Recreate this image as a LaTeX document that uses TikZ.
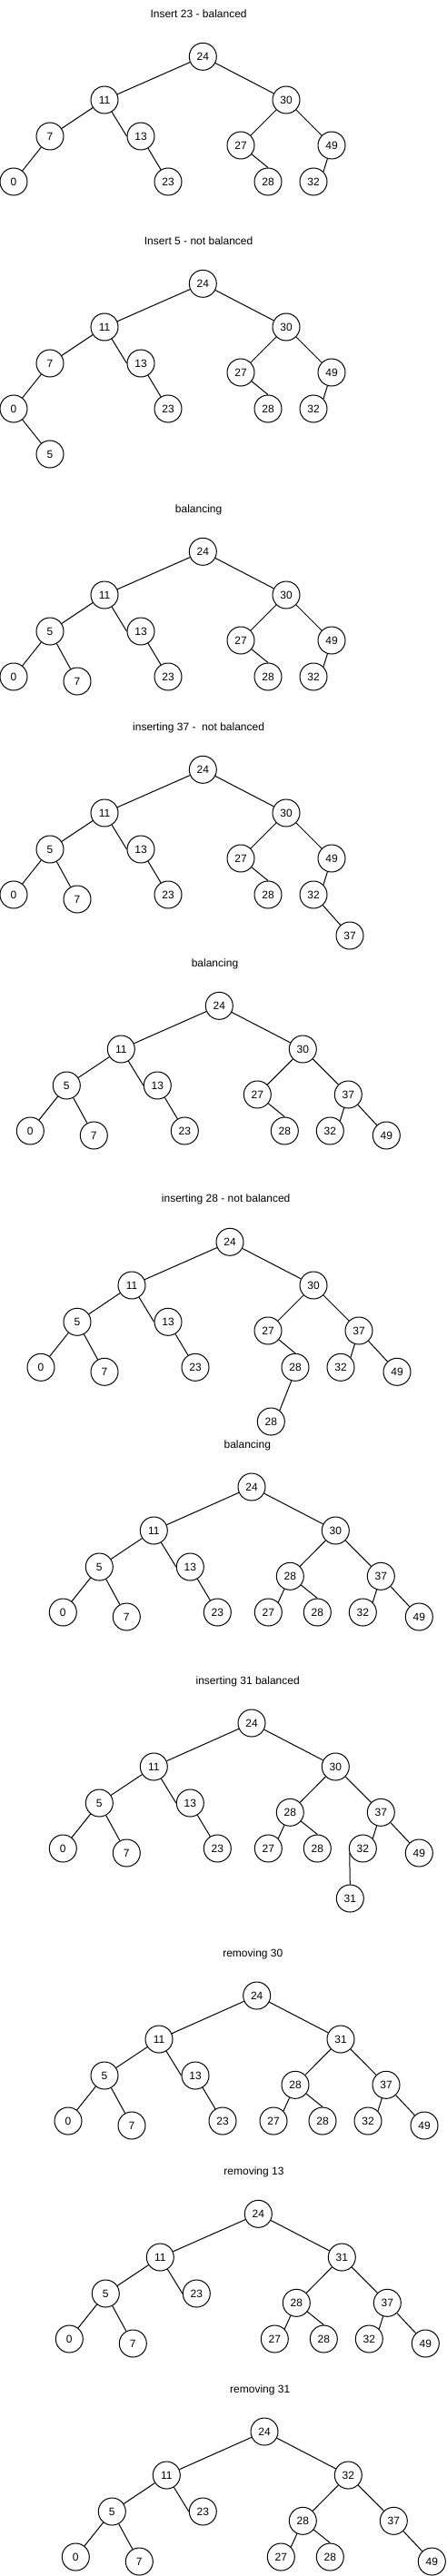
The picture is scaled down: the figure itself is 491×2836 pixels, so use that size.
\documentclass[tikz,border=0pt]{standalone}
\usepackage{fontspec}
\setmainfont{Liberation Sans}
\begin{document}
\begin{tikzpicture}[x=1pt,y=-1pt,
  nd/.style={circle,draw,line width=1pt,minimum size=30pt,inner sep=0pt,font=\fontsize{12}{14}\selectfont},
  ttl/.style={anchor=base,inner sep=0pt,font=\fontsize{12}{14}\selectfont},
  ln/.style={line width=1pt}]
\useasboundingbox (0,0) rectangle (491,2836);

% ---------- Tree 1 ----------
\node[ttl] (t1) at (218.6,19.3) {Insert 23 - balanced};
\node[nd] (a24) at (223.3,62.3) {24};
\node[nd] (a11) at (115,110) {11};
\node[nd] (a30) at (315,110) {30};
\node[nd] (a7) at (55,150) {7};
\node[nd] (a13) at (155,150) {13};
\node[nd] (a27) at (265,160) {27};
\node[nd] (a49) at (365,160) {49};
\node[nd] (a0) at (15,200) {0};
\node[nd] (a23) at (185,200) {23};
\node[nd] (a28) at (295,200) {28};
\node[nd] (a32) at (345,200) {32};
\draw[ln] (a24) -- (a11);
\draw[ln] (a24) -- (a30);
\draw[ln] (a11) -- (a7);
\draw[ln] (a11) -- (a13.west);
\draw[ln] (a7) -- (a0);
\draw[ln] (a13) -- (a23);
\draw[ln] (a30) -- (a27);
\draw[ln] (a30) -- (a49);
\draw[ln] (a27) -- (a28.north);
\draw[ln] (a49) -- (a32.north east);

% ---------- Tree 2 ----------
\node[ttl] (t2) at (218.6,269.3) {Insert 5 - not balanced};
\node[nd] (b24) at (223.3,312.3) {24};
\node[nd] (b11) at (115,360) {11};
\node[nd] (b30) at (315,360) {30};
\node[nd] (b7) at (55,400) {7};
\node[nd] (b13) at (155,400) {13};
\node[nd] (b27) at (265,410) {27};
\node[nd] (b49) at (365,410) {49};
\node[nd] (b0) at (15,450) {0};
\node[nd] (b23) at (185,450) {23};
\node[nd] (b28) at (295,450) {28};
\node[nd] (b32) at (345,450) {32};
\node[nd] (b5) at (55,500) {5};
\draw[ln] (b24) -- (b11);
\draw[ln] (b24) -- (b30);
\draw[ln] (b11) -- (b7);
\draw[ln] (b11) -- (b13.west);
\draw[ln] (b7) -- (b0);
\draw[ln] (b0) -- (b5);
\draw[ln] (b13) -- (b23);
\draw[ln] (b30) -- (b27);
\draw[ln] (b30) -- (b49);
\draw[ln] (b27) -- (b28.north);
\draw[ln] (b49) -- (b32.north east);

% ---------- Tree 3 ----------
\node[ttl] (t3) at (218.6,564.3) {balancing};
\node[nd] (c24) at (223.3,607.3) {24};
\node[nd] (c11) at (115,655) {11};
\node[nd] (c30) at (315,655) {30};
\node[nd] (c5) at (55,695) {5};
\node[nd] (c13) at (155,695) {13};
\node[nd] (c27) at (265,705) {27};
\node[nd] (c49) at (365,705) {49};
\node[nd] (c0) at (15,745) {0};
\node[nd] (c7) at (85,750) {7};
\node[nd] (c23) at (185,745) {23};
\node[nd] (c28) at (295,745) {28};
\node[nd] (c32) at (345,745) {32};
\draw[ln] (c24) -- (c11);
\draw[ln] (c24) -- (c30);
\draw[ln] (c11) -- (c5);
\draw[ln] (c11) -- (c13.west);
\draw[ln] (c5) -- (c0);
\draw[ln] (c5) -- (c7);
\draw[ln] (c13) -- (c23);
\draw[ln] (c30) -- (c27);
\draw[ln] (c30) -- (c49);
\draw[ln] (c27) -- (c28.north);
\draw[ln] (c49) -- (c32.north east);

% ---------- Tree 4 ----------
\node[ttl] (t4) at (218.6,804.3) {inserting 37 -\ \ not balanced};
\node[nd] (d24) at (223.3,847.3) {24};
\node[nd] (d11) at (115,895) {11};
\node[nd] (d30) at (315,895) {30};
\node[nd] (d5) at (55,935) {5};
\node[nd] (d13) at (155,935) {13};
\node[nd] (d27) at (265,945) {27};
\node[nd] (d49) at (365,945) {49};
\node[nd] (d0) at (15,985) {0};
\node[nd] (d7) at (85,990) {7};
\node[nd] (d23) at (185,985) {23};
\node[nd] (d28) at (295,985) {28};
\node[nd] (d32) at (345,985) {32};
\node[nd] (d37) at (385,1030) {37};
\draw[ln] (d24) -- (d11);
\draw[ln] (d24) -- (d30);
\draw[ln] (d11) -- (d5);
\draw[ln] (d11) -- (d13.west);
\draw[ln] (d5) -- (d0);
\draw[ln] (d5) -- (d7);
\draw[ln] (d13) -- (d23);
\draw[ln] (d30) -- (d27);
\draw[ln] (d30) -- (d49);
\draw[ln] (d27) -- (d28.north);
\draw[ln] (d49) -- (d32.north east);
\draw[ln] (d32) -- (d37);

% ---------- Tree 5 ----------
\node[ttl] (t5) at (236.5,1064.3) {balancing};
\node[nd] (e24) at (241.3,1107.3) {24};
\node[nd] (e11) at (133.3,1155) {11};
\node[nd] (e30) at (333.3,1155) {30};
\node[nd] (e5) at (73.3,1195) {5};
\node[nd] (e13) at (173.3,1195) {13};
\node[nd] (e27) at (283.3,1205) {27};
\node[nd] (e37) at (383.3,1205) {37};
\node[nd] (e0) at (33.3,1245) {0};
\node[nd] (e7) at (103.3,1250) {7};
\node[nd] (e23) at (203.3,1245) {23};
\node[nd] (e28) at (313.3,1245) {28};
\node[nd] (e32) at (363.3,1245) {32};
\node[nd] (e49) at (425.3,1250) {49};
\draw[ln] (e24) -- (e11);
\draw[ln] (e24) -- (e30);
\draw[ln] (e11) -- (e5);
\draw[ln] (e11) -- (e13.west);
\draw[ln] (e5) -- (e0);
\draw[ln] (e5) -- (e7);
\draw[ln] (e13) -- (e23);
\draw[ln] (e30) -- (e27);
\draw[ln] (e30) -- (e37);
\draw[ln] (e27) -- (e28.north);
\draw[ln] (e37) -- (e32.north east);
\draw[ln] (e37) -- (e49);

% ---------- Tree 6 ----------
\node[ttl] (t6) at (248.7,1323.5) {inserting 28 - not balanced};
\node[nd] (f24) at (253,1367.3) {24};
\node[nd] (f11) at (145,1415) {11};
\node[nd] (f30) at (345,1415) {30};
\node[nd] (f5) at (85,1455.3) {5};
\node[nd] (f13) at (185,1455.3) {13};
\node[nd] (f27) at (295,1465) {27};
\node[nd] (f37) at (395,1465) {37};
\node[nd] (f0) at (45,1505.3) {0};
\node[nd] (f7) at (115,1510.3) {7};
\node[nd] (f23) at (215,1505.3) {23};
\node[nd] (f28) at (325,1505.3) {28};
\node[nd] (f32) at (375,1505.3) {32};
\node[nd] (f49) at (437,1510.3) {49};
\node[nd] (f28b) at (298.3,1565) {28};
\draw[ln] (f24) -- (f11);
\draw[ln] (f24) -- (f30);
\draw[ln] (f11) -- (f5);
\draw[ln] (f11) -- (f13.west);
\draw[ln] (f5) -- (f0);
\draw[ln] (f5) -- (f7);
\draw[ln] (f13) -- (f23);
\draw[ln] (f30) -- (f27);
\draw[ln] (f30) -- (f37);
\draw[ln] (f27) -- (f28.north);
\draw[ln] (f28.254) -- (f28b.52);
\draw[ln] (f37) -- (f32.north east);
\draw[ln] (f37) -- (f49);

% ---------- Tree 7 ----------
\node[ttl] (t7) at (272.3,1594) {balancing};
\node[nd] (g24) at (277,1637) {24};
\node[nd] (g11) at (169.3,1685) {11};
\node[nd] (g30) at (369.3,1685) {30};
\node[nd] (g5) at (109.3,1725) {5};
\node[nd] (g13) at (209.3,1725) {13};
\node[nd] (g28) at (319.3,1735.3) {28};
\node[nd] (g37) at (419.3,1735.3) {37};
\node[nd] (g0) at (69.3,1775) {0};
\node[nd] (g7) at (139.3,1780) {7};
\node[nd] (g23) at (239.3,1775) {23};
\node[nd] (g27) at (295.3,1775) {27};
\node[nd] (g28b) at (349.3,1775) {28};
\node[nd] (g32) at (399.3,1775) {32};
\node[nd] (g49) at (461.3,1780) {49};
\draw[ln] (g24) -- (g11);
\draw[ln] (g24) -- (g30);
\draw[ln] (g11) -- (g5);
\draw[ln] (g11) -- (g13.west);
\draw[ln] (g5) -- (g0);
\draw[ln] (g5) -- (g7);
\draw[ln] (g13) -- (g23);
\draw[ln] (g30) -- (g28);
\draw[ln] (g30) -- (g37);
\draw[ln] (g28) -- (g27.north east);
\draw[ln] (g28) -- (g28b.north);
\draw[ln] (g37) -- (g32.north east);
\draw[ln] (g37) -- (g49);

% ---------- Tree 8 ----------
\node[ttl] (t8) at (272.7,1854) {inserting 31 balanced};
\node[nd] (h24) at (277,1897) {24};
\node[nd] (h11) at (169.3,1945) {11};
\node[nd] (h30) at (369.3,1945) {30};
\node[nd] (h5) at (109.3,1985) {5};
\node[nd] (h13) at (209.3,1985) {13};
\node[nd] (h28) at (319.3,1995.3) {28};
\node[nd] (h37) at (419.3,1995.3) {37};
\node[nd] (h0) at (69.3,2035) {0};
\node[nd] (h7) at (139.3,2040) {7};
\node[nd] (h23) at (239.3,2035) {23};
\node[nd] (h27) at (295.3,2035) {27};
\node[nd] (h28b) at (349.3,2035) {28};
\node[nd] (h32) at (399.3,2035) {32};
\node[nd] (h49) at (461.3,2040) {49};
\node[nd] (h31) at (385.3,2090) {31};
\draw[ln] (h24) -- (h11);
\draw[ln] (h24) -- (h30);
\draw[ln] (h11) -- (h5);
\draw[ln] (h11) -- (h13.west);
\draw[ln] (h5) -- (h0);
\draw[ln] (h5) -- (h7);
\draw[ln] (h13) -- (h23);
\draw[ln] (h30) -- (h28);
\draw[ln] (h30) -- (h37);
\draw[ln] (h28) -- (h27.north east);
\draw[ln] (h28) -- (h28b.north);
\draw[ln] (h37) -- (h32.north east);
\draw[ln] (h37) -- (h49);
\draw[ln] (h32.200) -- (h31.north);

% ---------- Tree 9 ----------
\node[ttl] (t9) at (278.3,2154) {removing 30};
\node[nd] (i24) at (282.7,2197) {24};
\node[nd] (i11) at (175,2245) {11};
\node[nd] (i31) at (375,2245) {31};
\node[nd] (i5) at (115,2285) {5};
\node[nd] (i13) at (215,2285) {13};
\node[nd] (i28) at (325,2295.3) {28};
\node[nd] (i37) at (425,2295.3) {37};
\node[nd] (i0) at (75,2335) {0};
\node[nd] (i7) at (145,2340) {7};
\node[nd] (i23) at (245,2335) {23};
\node[nd] (i27) at (301,2335) {27};
\node[nd] (i28b) at (355,2335) {28};
\node[nd] (i32) at (405,2335) {32};
\node[nd] (i49) at (467,2340) {49};
\draw[ln] (i24) -- (i11);
\draw[ln] (i24) -- (i31);
\draw[ln] (i11) -- (i5);
\draw[ln] (i11) -- (i13.west);
\draw[ln] (i5) -- (i0);
\draw[ln] (i5) -- (i7);
\draw[ln] (i13) -- (i23);
\draw[ln] (i31) -- (i28);
\draw[ln] (i31) -- (i37);
\draw[ln] (i28) -- (i27.north east);
\draw[ln] (i28) -- (i28b.north);
\draw[ln] (i37) -- (i32.north east);
\draw[ln] (i37) -- (i49);

% ---------- Tree 10 ----------
\node[ttl] (t10) at (279.5,2394.3) {removing 13};
\node[nd] (j24) at (284.3,2437.3) {24};
\node[nd] (j11) at (176.3,2485) {11};
\node[nd] (j31) at (376.3,2485) {31};
\node[nd] (j5) at (116.3,2525) {5};
\node[nd] (j23) at (216.3,2525) {23};
\node[nd] (j28) at (326.3,2535.3) {28};
\node[nd] (j37) at (426.3,2535.3) {37};
\node[nd] (j0) at (76.3,2575) {0};
\node[nd] (j7) at (146.3,2580) {7};
\node[nd] (j27) at (302.3,2575) {27};
\node[nd] (j28b) at (356.3,2575) {28};
\node[nd] (j32) at (406.3,2575) {32};
\node[nd] (j49) at (468.3,2580) {49};
\draw[ln] (j24) -- (j11);
\draw[ln] (j24) -- (j31);
\draw[ln] (j11) -- (j5);
\draw[ln] (j11) -- (j23.west);
\draw[ln] (j5) -- (j0);
\draw[ln] (j5) -- (j7);
\draw[ln] (j31) -- (j28);
\draw[ln] (j31) -- (j37);
\draw[ln] (j28) -- (j27.north east);
\draw[ln] (j28) -- (j28b.north);
\draw[ln] (j37) -- (j32.north east);
\draw[ln] (j37) -- (j49);

% ---------- Tree 11 ----------
\node[ttl] (t11) at (286.2,2634.3) {removing 31};
\node[nd] (k24) at (291,2677) {24};
\node[nd] (k11) at (183.3,2725) {11};
\node[nd] (k32) at (383.3,2725) {32};
\node[nd] (k5) at (123.3,2765) {5};
\node[nd] (k23) at (223.3,2765) {23};
\node[nd] (k28) at (333.3,2775.3) {28};
\node[nd] (k37) at (433.3,2775.3) {37};
\node[nd] (k0) at (83.3,2815) {0};
\node[nd] (k7) at (153.3,2820) {7};
\node[nd] (k27) at (309.3,2815) {27};
\node[nd] (k28b) at (363.3,2815) {28};
\node[nd] (k49) at (475.3,2820) {49};
\draw[ln] (k24) -- (k11);
\draw[ln] (k24) -- (k32);
\draw[ln] (k11) -- (k5);
\draw[ln] (k11) -- (k23.west);
\draw[ln] (k5) -- (k0);
\draw[ln] (k5) -- (k7);
\draw[ln] (k32) -- (k28);
\draw[ln] (k32) -- (k37);
\draw[ln] (k28) -- (k27.north east);
\draw[ln] (k28) -- (k28b.north);
\draw[ln] (k37) -- (k49);
\end{tikzpicture}
\end{document}
